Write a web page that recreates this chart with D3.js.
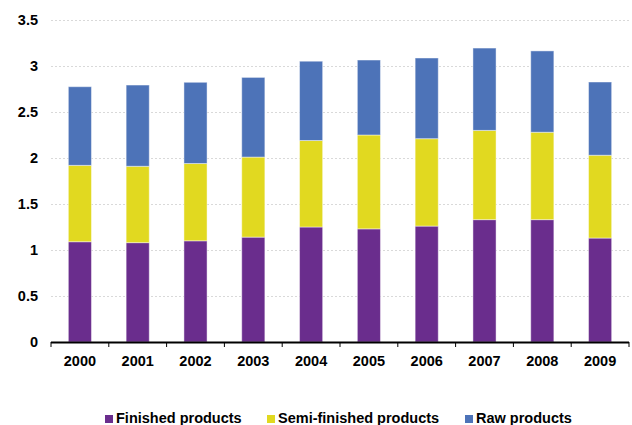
<!DOCTYPE html>
<html>
<head>
<meta charset="utf-8">
<script src="https://cdn.jsdelivr.net/npm/d3@7"></script>
<style>
  body { margin: 0; background: #fff; }
  svg text { font-family: "Liberation Sans", Arial, sans-serif; font-weight: bold; fill: #000; }
</style>
</head>
<body>
<svg id="chart" width="632" height="425"></svg>
<script>
const years = ['2000', '2001', '2002', '2003', '2004', '2005', '2006', '2007', '2008', '2009'];
const finished = [1.09, 1.08, 1.10, 1.14, 1.25, 1.23, 1.26, 1.33, 1.33, 1.13];
const semiFinished = [0.83, 0.83, 0.84, 0.87, 0.94, 1.02, 0.95, 0.97, 0.95, 0.90];
const raw = [0.855, 0.883, 0.883, 0.866, 0.862, 0.815, 0.877, 0.895, 0.884, 0.796];
const seriesNames = ['Finished products', 'Semi-finished products', 'Raw products'];
const yTicks = [0, 0.5, 1, 1.5, 2, 2.5, 3, 3.5];

const colors = ['#6a2d8d', '#e1d920', '#4d73b8'];

const rows = years.map((y, i) => ({ year: y, f: finished[i], s: semiFinished[i], r: raw[i] }));

const svg = d3.select('#chart');
const plotLeft = 51, plotRight = 629, plotTop = 20, plotBottom = 342;

const x = d3.scaleBand().domain(years).range([plotLeft, plotRight]).paddingInner(0.6).paddingOuter(0.3);
const y = d3.scaleLinear().domain([0, 3.5]).range([plotBottom, plotTop]);

// gridlines
svg.append('g')
  .selectAll('line')
  .data(yTicks.filter(d => d > 0))
  .join('line')
  .attr('x1', plotLeft).attr('x2', plotRight)
  .attr('y1', d => Math.round(y(d)) + 0.5).attr('y2', d => Math.round(y(d)) + 0.5)
  .attr('stroke', '#d9d9d9')
  .attr('stroke-dasharray', '2,2');

// y labels
svg.append('g')
  .selectAll('text')
  .data(yTicks)
  .join('text')
  .attr('x', 38)
  .attr('y', d => y(d) + 5)
  .attr('text-anchor', 'end')
  .style('font-size', '14.5px')
  .text(d => d);

// stacked bars
const stack = d3.stack().keys(['f', 's', 'r']);
const layers = stack(rows);

svg.append('g')
  .selectAll('g')
  .data(layers)
  .join('g')
  .attr('fill', (d, i) => colors[i])
  .selectAll('rect')
  .data(d => d)
  .join('rect')
  .attr('x', d => x(d.data.year))
  .attr('width', x.bandwidth())
  .attr('y', d => y(d[1]))
  .attr('height', d => y(d[0]) - y(d[1]))
  .attr('stroke', 'rgba(255,255,255,0.45)')
  .attr('stroke-width', 1);

// x axis line and ticks
const bounds = d3.range(years.length + 1).map(i => plotLeft + i * (plotRight - plotLeft) / years.length);
const axis = svg.append('g');
axis.append('line')
  .attr('x1', plotLeft).attr('x2', plotRight)
  .attr('y1', plotBottom + 0.5).attr('y2', plotBottom + 0.5)
  .attr('stroke', '#000').attr('stroke-width', 2);
axis.selectAll('.tick')
  .data(bounds)
  .join('line')
  .attr('class', 'tick')
  .attr('x1', d => d).attr('x2', d => d)
  .attr('y1', plotBottom).attr('y2', plotBottom + 5)
  .attr('stroke', '#000').attr('stroke-width', 1);

axis.selectAll('text')
  .data(years)
  .join('text')
  .attr('x', d => x(d) + x.bandwidth() / 2)
  .attr('y', 366)
  .attr('text-anchor', 'middle')
  .style('font-size', '14.5px')
  .text(d => d);

// legend
const legendX = [105, 267, 465];
const legend = svg.append('g')
  .selectAll('g')
  .data(seriesNames)
  .join('g')
  .attr('transform', (d, i) => `translate(${legendX[i]},0)`);
legend.append('rect')
  .attr('x', 0).attr('y', 415)
  .attr('width', 8).attr('height', 8)
  .attr('fill', (d, i) => colors[i]);
legend.append('text')
  .attr('x', 11).attr('y', 423)
  .style('font-size', '14.5px')
  .text(d => d);
</script>
</body>
</html>
